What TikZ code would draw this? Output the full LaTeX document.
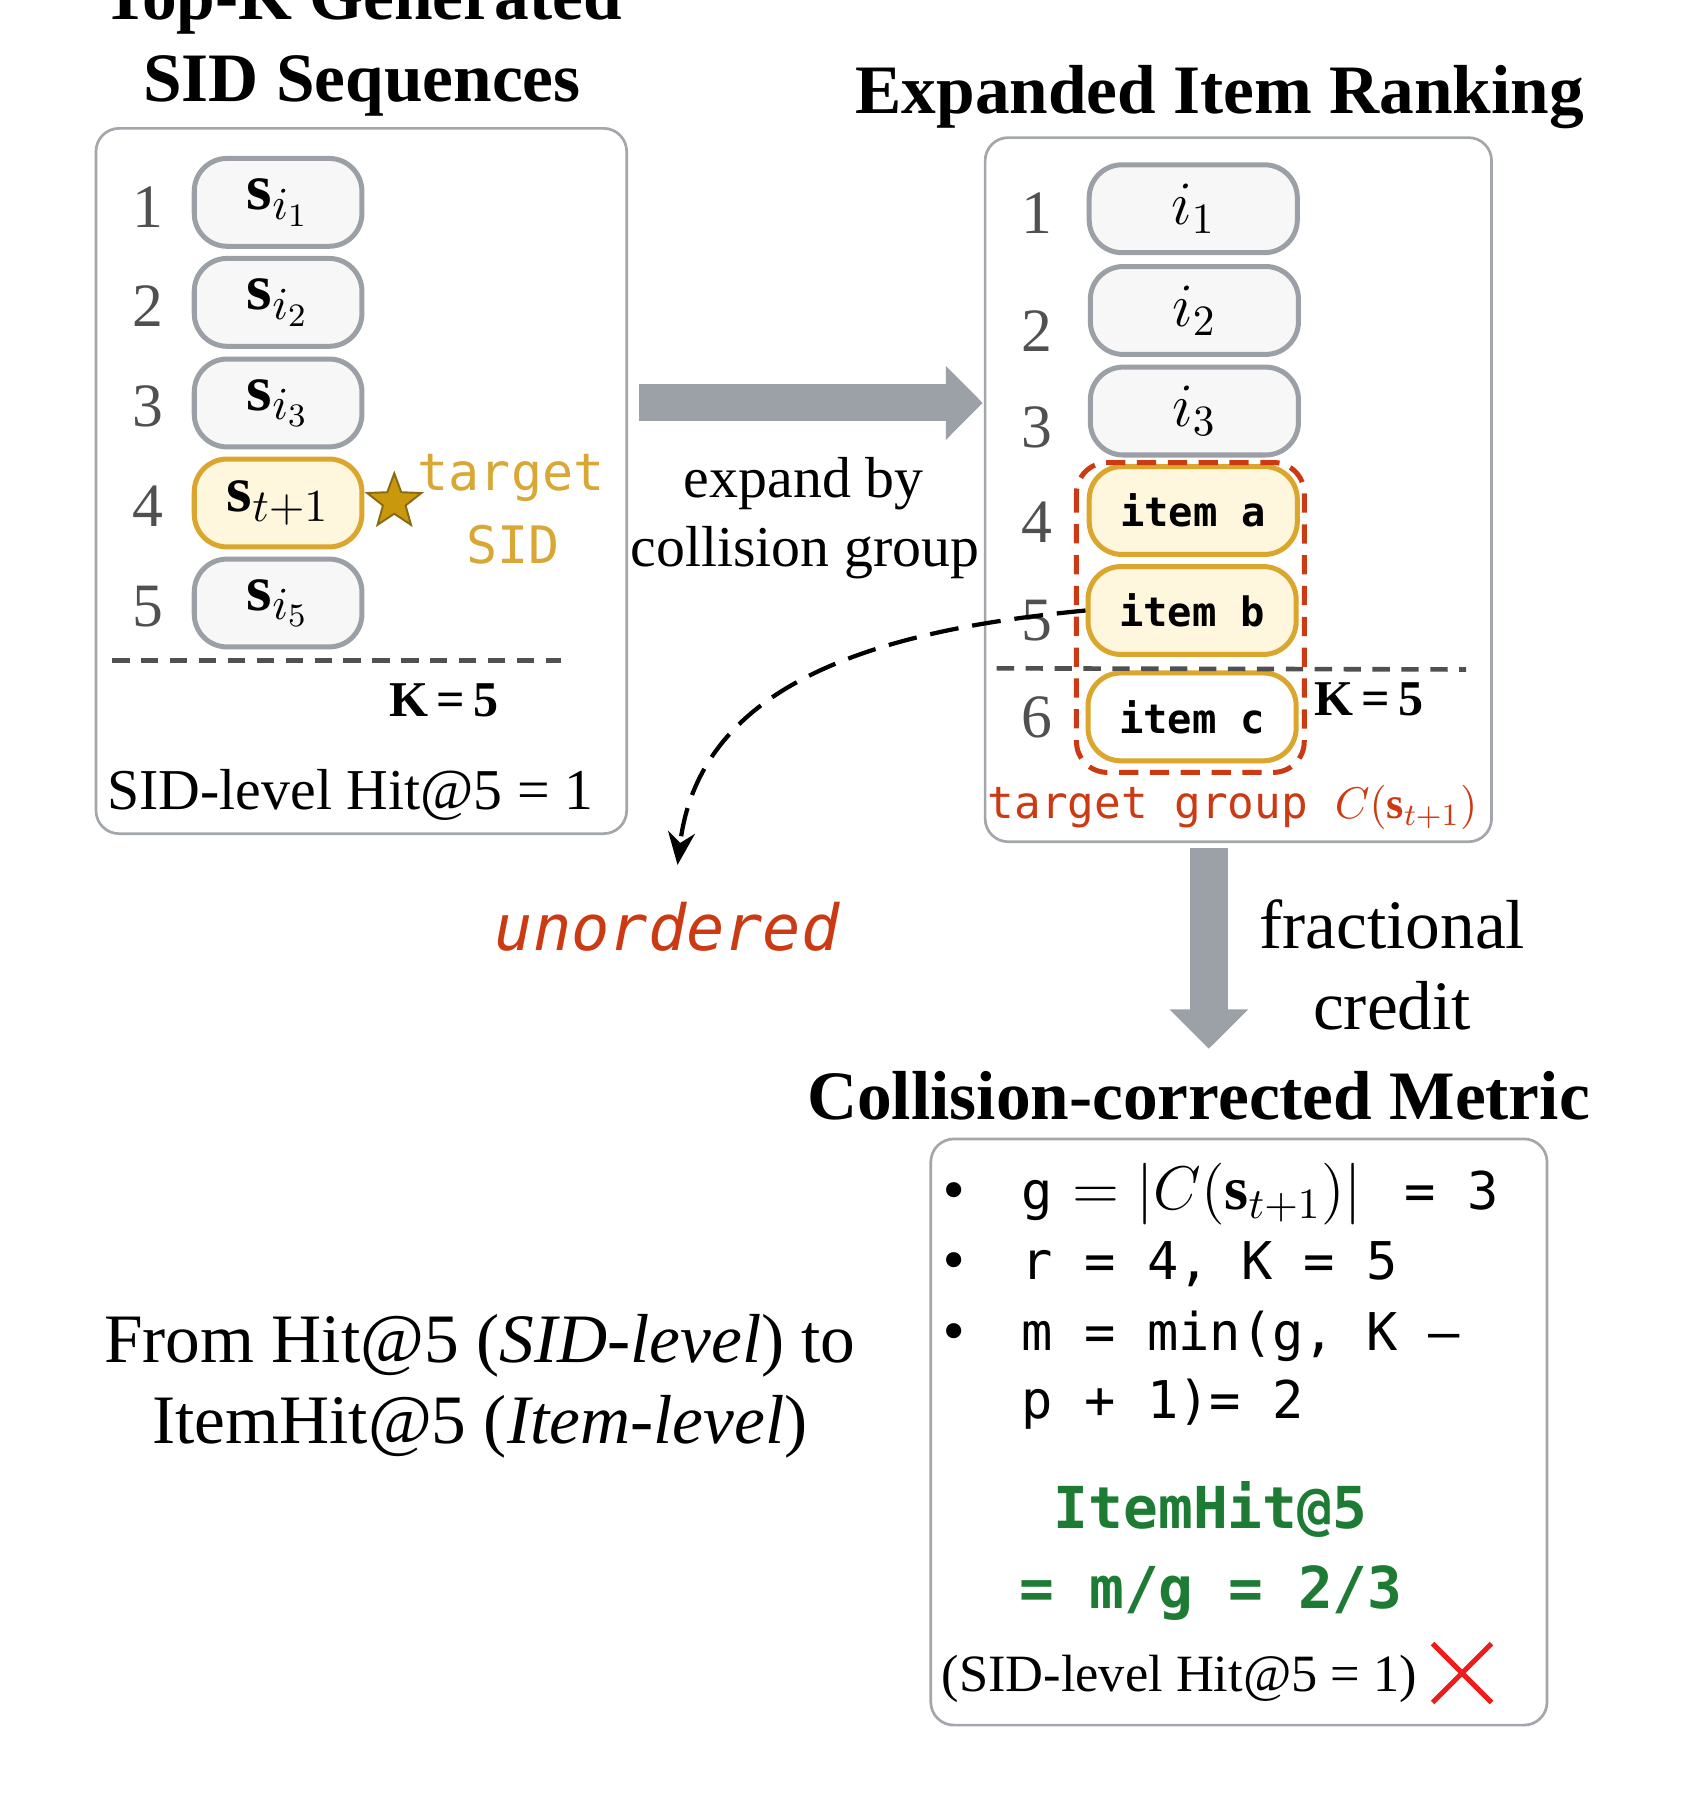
\RequirePackage{fix-cm}
\documentclass[tikz,border=0pt]{standalone}
\usepackage{fontspec}
\setmainfont{Liberation Serif}
\setmonofont{DejaVu Sans Mono}
\usetikzlibrary{arrows.meta,shapes.geometric,shapes.misc}

\definecolor{boxgray}{HTML}{A3A7AB}
\definecolor{pillgray}{HTML}{9BA0A6}
\definecolor{pillfill}{HTML}{F7F7F7}
\definecolor{gold}{HTML}{DAA62E}
\definecolor{goldfill}{HTML}{FFF6DE}
\definecolor{stargold}{HTML}{C9980C}
\definecolor{stardark}{HTML}{8A6A10}
\definecolor{targetgold}{HTML}{D8A735}
\definecolor{groupred}{HTML}{CC3A14}
\definecolor{hitgreen}{HTML}{1E7B34}
\definecolor{arrowgray}{HTML}{9CA1A7}
\definecolor{rankgray}{HTML}{505050}
\definecolor{crossred}{HTML}{EE1C1C}

\newcommand{\fsz}[1]{\fontsize{#1}{#1}\selectfont}

\tikzset{
  panelbox/.style={draw=boxgray, line width=0.7pt, rounded corners=6pt, inner sep=0pt, outer sep=0pt},
  sidpill/.style={draw=pillgray, fill=pillfill, line width=1.3pt, rounded corners=8.5pt,
    minimum width=43.5pt, minimum height=22.8pt, inner sep=0pt, font=\fsz{17}},
  itempill/.style={sidpill, minimum width=54pt, font=\fsz{16}},
  hitpill/.style={draw=gold, fill=goldfill},
  itemtext/.style={font=\fsz{10.5}\ttfamily\bfseries},
  rank/.style={anchor=base, inner sep=0pt, text=rankgray, font=\fsz{16}},
  cutline/.style={draw=rankgray, line width=1.2pt, dash pattern=on 4.5pt off 3pt},
  groupline/.style={draw=groupred, line width=1.3pt, dash pattern=on 5pt off 3pt, rounded corners=8pt},
  paneltitle/.style={anchor=base, inner sep=0pt, font=\fsz{18}\bfseries},
  plain/.style={anchor=base, inner sep=0pt, font=\fsz{#1}},
  monolabel/.style={anchor=base, inner sep=0pt, font=\fsz{#1}\ttfamily},
  kcut/.style={anchor=base, inner sep=0pt, font=\fsz{13}\bfseries},
  bigarrow/.style={arrowgray, line width=9.6pt, -{Triangle[length=9.6pt, width=18.6pt]}},
  flowline/.style={line width=1.1pt, dash pattern=on 7.5pt off 3.6pt, -{Stealth[length=8.5pt, width=7pt]}},
  codeline/.style={anchor=base west, inner sep=0pt, font=\fsz{13.5}\ttfamily},
  hitline/.style={anchor=base, inner sep=0pt, text=hitgreen, font=\fsz{15}\ttfamily\bfseries},
}

\begin{document}
\begin{tikzpicture}[x=0.3pt, y=-0.3pt]
  \useasboundingbox (0,0) rectangle (1453,1568);

  % titles
  \node[paneltitle] (ttlsida) at (313,17) {Top-K Generated};
  \node[paneltitle] (ttlsidb) at (313,88) {SID Sequences};
  \node[paneltitle] (ttlitem) at (1055,98) {Expanded Item Ranking};
  \node[paneltitle] (ttlmetric) at (1036.5,968) {Collision-corrected Metric};

  % panels
  \node[panelbox, minimum width=137.7pt, minimum height=183pt] (lpanel) at (312.5,416) {};
  \node[panelbox, minimum width=131.4pt, minimum height=182.7pt] (rpanel) at (1071,423.5) {};
  \node[panelbox, minimum width=159.9pt, minimum height=152.1pt] (mpanel) at (1071.5,1238.5) {};

  % generated SIDs
  \node[rank] at (128,197) {1};
  \node[rank] at (128,282) {2};
  \node[rank] at (128,369) {3};
  \node[rank] at (128,455) {4};
  \node[rank] at (128,542) {5};
  \node[sidpill] (s1) at (240.5,175) {$\mathbf{s}_{i_1}$};
  \node[sidpill] (s2) at (240.5,261.5) {$\mathbf{s}_{i_2}$};
  \node[sidpill] (s3) at (240.5,348.5) {$\mathbf{s}_{i_3}$};
  \node[sidpill, hitpill] (s4) at (240.5,435) {$\mathbf{s}_{t+1}$};
  \node[sidpill] (s5) at (240.5,521.5) {$\mathbf{s}_{i_5}$};
  \node[star, star points=5, star point ratio=2.4, minimum size=14.8pt, inner sep=0pt,
        fill=stargold, draw=stardark, line width=0.5pt] (star) at (341,434) {};
  \node[monolabel=13.4, text=targetgold] (tgta) at (442,424) {target};
  \node[monolabel=13.4, text=targetgold] (tgtb) at (444,487) {SID};
  \draw[cutline] (97,571) -- (485,571);
  \node[kcut] (kleft) at (384,620) {K\,=\,5};
  \node[plain=15] (sidhit) at (303,700) {SID-level Hit@5 = 1};

  % expansion
  \draw[bigarrow] ([xshift=3.3pt]lpanel.east |- s3) -- ([xshift=-0.6pt]rpanel.west |- s3);
  \node[plain=15] (expa) at (695,430) {expand by};
  \node[plain=15] (expb) at (696,490) {collision group};

  % expanded items
  \node[rank] at (897,202) {1};
  \node[rank] at (897,304) {2};
  \node[rank] at (897,387) {3};
  \node[rank] at (897,469) {4};
  \node[rank] at (897,554) {5};
  \node[rank] at (897,638) {6};
  \node[itempill] (i1) at (1032,180.5) {$i_1$};
  \node[itempill] (i2) at (1033,268.5) {$i_2$};
  \node[itempill] (i3) at (1033,355.5) {$i_3$};
  \node[itempill, hitpill, itemtext] (itema) at (1032,441.5) {item a};
  \node[itempill, hitpill, itemtext] (itemb) at (1031,528) {item b};
  \node[itempill, hitpill, fill=white, itemtext] (itemc) at (1031,620) {item c};
  \draw[groupline] (931,400) rectangle (1128,668);
  \draw[cutline] (862,578) -- (1268,579);
  \node[kcut] (kright) at (1184,619) {K\,=\,5};
  \node[monolabel=11.5, text=groupred] (grp) at (1066,708) {target group $C(\mathbf{s}_{t+1})$};

  % unordered group
  \coordinate (unordtip) at (586,748);
  \draw[flowline] (itemb.west) .. controls (760,545) and (605,590) .. (unordtip);
  \node[anchor=base, inner sep=0pt, text=groupred, font=\fsz{16.5}\ttfamily\itshape] (unord) at (577,822) {unordered};

  % fractional credit
  \coordinate (fracx) at (1045.5,907);
  \draw[bigarrow, line width=9.9pt, -{Triangle[length=10.2pt, width=19.8pt]}]
    ([yshift=-1.5pt]fracx |- rpanel.south) -- (fracx);
  \node[plain=18] (fraca) at (1204,820) {fractional};
  \node[plain=18] (fracb) at (1204,890) {credit};

  % metric
  \node[codeline, anchor=base] at (825,1046) {\textbullet};
  \node[codeline, anchor=base] at (825,1107) {\textbullet};
  \node[codeline, anchor=base] at (825,1168) {\textbullet};
  \node[codeline] (mg) at (883,1046) {g\kern5pt{\fsz{16}$=|C(\mathbf{s}_{t+1})|$}\hspace{3pt}\ = 3};
  \node[codeline] (mr) at (883,1107) {r = 4, K = 5};
  \node[codeline] (mm) at (883,1168) {m = min(g, K –};
  \node[codeline] (mp) at (883,1227) {p + 1)= 2};
  \node[hitline] (hita) at (1047,1322) {ItemHit@5};
  \node[hitline] (hitb) at (1047.5,1391) {= m/g = 2/3};
  \node[plain=13.6] (sidnote) at (1020,1463) {(SID-level Hit@5 = 1)};
  \node[cross out, draw=crossred, line width=1.3pt, minimum size=14pt, inner sep=0pt] (nohit) at (1264.5,1447) {};

  % caption
  \node[plain=18] (capa) at (415,1178) {From Hit@5 (\textit{SID-level}) to};
  \node[plain=18] (capb) at (415,1248) {ItemHit@5 (\textit{Item-level})};
\end{tikzpicture}
\end{document}
